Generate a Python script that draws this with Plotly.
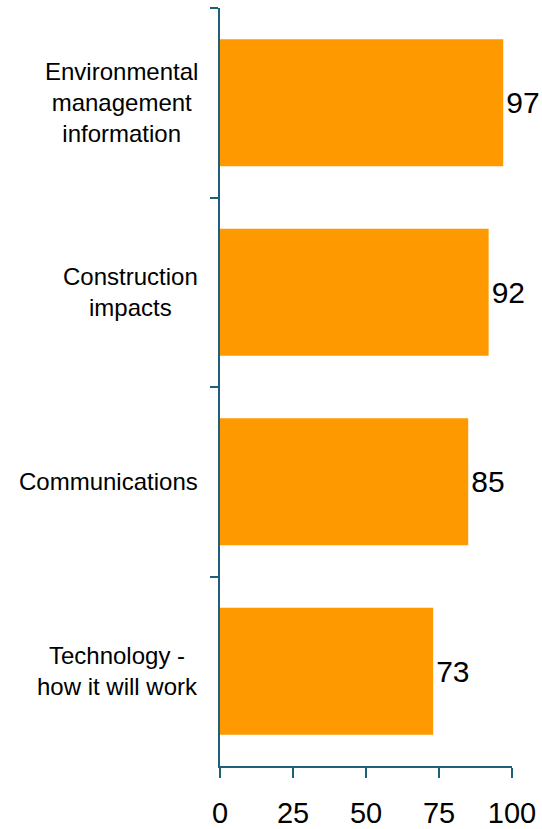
import plotly.graph_objects as go

categories = ["Environmental<br>management<br>information", "Construction<br>impacts",
              "Communications", "Technology -<br>how it will work"]
values = [97, 92, 85, 73]
x_ticks = [0, 25, 50, 75, 100]

AXIS = "#1F5F7A"
BAR = "#FF9900"
FONT = "Liberation Sans, Arial, sans-serif"

fig = go.Figure(go.Bar(
    y=categories, x=values, orientation="h",
    marker=dict(color=BAR, line=dict(width=0)),
    text=[str(v) for v in values], textposition="outside",
    textfont=dict(size=30, color="#000000", family=FONT),
    cliponaxis=False, width=0.67,
))

for c in categories:
    fig.add_annotation(x=-20/292, xref="paper", y=c, yref="y", text=c,
                       showarrow=False, xanchor="right", yanchor="middle",
                       align="center", font=dict(size=24, color="#000000", family=FONT))

fig.update_layout(
    width=542, height=829,
    margin=dict(l=220, r=30, t=8, b=63, autoexpand=False),
    paper_bgcolor="white", plot_bgcolor="white",
    showlegend=False,
    xaxis=dict(range=[0, 100], tickvals=x_ticks, ticks="outside", ticklen=10,
               tickwidth=2, tickcolor=AXIS, showline=True, linecolor=AXIS, linewidth=2,
               showgrid=False, zeroline=False, automargin=False,
               tickfont=dict(size=29, color="#000000", family=FONT),
               ticklabelstandoff=10),
    yaxis=dict(categoryorder="array", categoryarray=categories,
               range=[3.5, -0.5], tickson="boundaries", ticks="outside", ticklen=8,
               tickwidth=2, tickcolor=AXIS, showline=True, linecolor=AXIS, linewidth=2,
               showgrid=False, zeroline=False, showticklabels=False, automargin=False),
)

fig.write_html("out.html", config={"displayModeBar": False},
               post_script="document.body.style.margin='0';document.body.style.overflow='hidden';")
